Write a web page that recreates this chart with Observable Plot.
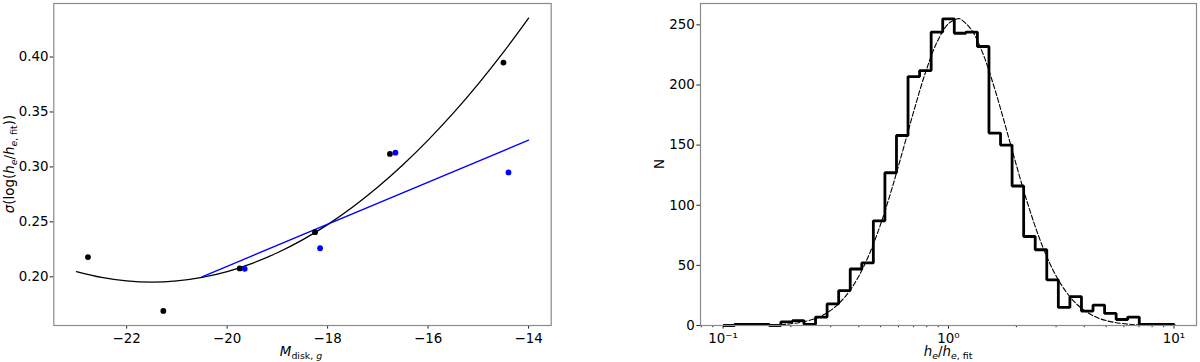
<!DOCTYPE html>
<html><head><meta charset="utf-8">
<script src="https://cdn.jsdelivr.net/npm/d3@7"></script>
<script src="https://cdn.jsdelivr.net/npm/@observablehq/plot@0.6"></script>
<style>
html,body{margin:0;padding:0;background:#fff;}
#fig{position:relative;width:1200px;height:362px;overflow:hidden;}
#left,#right{position:absolute;top:0;}
#left{left:0}
#right{left:600px}
</style></head><body>
<div id="fig"><div id="left"></div><div id="right"></div></div>
<script>
// ---------- Left panel data ----------
const blackMag   = [-22.77, -21.27, -19.75, -18.25, -16.76, -14.50];
const blackSigma = [0.2180, 0.1690, 0.2076, 0.2406, 0.3118, 0.3949];
const blueMag    = [-19.65, -18.15, -16.65, -14.40];
const blueSigma  = [0.2073, 0.2260, 0.3130, 0.2950];
const blackFitMag   = [-23, -22.5, -22, -21.5, -21, -20.5, -20, -19.5, -19, -18.5, -18, -17.5, -17, -16.5, -16, -15.5, -15, -14.5, -14];
const blackFitSigma = [0.2048, 0.1995, 0.1963, 0.1952, 0.1963, 0.1995, 0.2048, 0.2123, 0.2219, 0.2336, 0.2475, 0.2635, 0.2817, 0.3020, 0.3244, 0.3489, 0.3756, 0.4044, 0.4354];
const blueFitMag   = [-20.5, -14.0];
const blueFitSigma = [0.2000, 0.3243];
const xTicksLeft = [-22, -20, -18, -16, -14];
const yTicksLeft = [0.20, 0.25, 0.30, 0.35, 0.40];

// ---------- Right panel data ----------
const binEdges = [0.1, 0.11253, 0.12663, 0.14251, 0.16037, 0.18047, 0.20309, 0.22855, 0.25719, 0.28943,
  0.32571, 0.36653, 0.41246, 0.46416, 0.52233, 0.58780, 0.66147, 0.74438, 0.83768, 0.94267,
  1.06082, 1.19378, 1.34340, 1.51178, 1.70125, 1.91448, 2.15443, 2.42446, 2.72833, 3.07029,
  3.45511, 3.88816, 4.37548, 4.92388, 5.54102, 6.23551, 7.01704, 7.89652, 8.88624, 10];
const binCounts = [0, 1, 1, 1, 0, 3, 4, 1, 7, 18,
  29, 47, 52, 87, 127, 158, 207, 212, 244, 255,
  243, 244, 232, 160, 150, 116, 74, 63, 38, 15,
  24, 12, 17, 10, 5, 7, 1, 1, 1];
const gaussRatio = [0.1, 0.1259, 0.1585, 0.1995, 0.2512, 0.2818, 0.3162, 0.3548, 0.3981, 0.4467,
  0.5012, 0.5623, 0.6310, 0.7079, 0.7943, 0.8913, 1.0, 1.0965, 1.122, 1.259, 1.413, 1.585, 1.778,
  1.995, 2.239, 2.512, 2.818, 3.162, 3.548, 3.981, 4.467, 5.012, 6.310, 7.943, 10];
const gaussN = [0.0, 0.06, 0.31, 1.39, 5.15, 9.3, 15.9, 25.9, 40.3, 59.9,
  84.8, 114.5, 147.3, 180.8, 211.6, 236.0, 251.1, 255.0, 255.0, 246.4, 227.3, 199.8, 167.6,
  134.0, 102.1, 74.2, 51.4, 34.0, 21.4, 12.9, 7.4, 4.02, 1.04, 0.22, 0.04];
const xTicksRight = [0.1, 1, 10];
const xTickLabelsRight = ["10\u207B\u00B9", "10\u2070", "10\u00B9"];
const xMinorTicksRight = [0.08, 0.09, 0.2, 0.3, 0.4, 0.5, 0.6, 0.7, 0.8, 0.9, 2, 3, 4, 5, 6, 7, 8, 9];
const yTicksRight = [0, 50, 100, 150, 200, 250];

// ---------- tables ----------
const blackPts = blackMag.map((m, i) => ({m, s: blackSigma[i]}));
const bluePts = blueMag.map((m, i) => ({m, s: blueSigma[i]}));
const blackFit = blackFitMag.map((m, i) => ({m, s: blackFitSigma[i]}));
const blueFit = blueFitMag.map((m, i) => ({m, s: blueFitSigma[i]}));

const stepPts = [{x: binEdges[0], n: 0}];
binEdges.forEach((e, i) => stepPts.push({x: e, n: binCounts[Math.min(i, binCounts.length - 1)]}));
stepPts.push({x: binEdges[binEdges.length - 1], n: 0});
const gaussPts = gaussRatio.map((x, i) => ({x, n: gaussN[i]}));

const FONT = '"DejaVu Sans", "Liberation Sans", sans-serif';
const FS = 13.4;
const baseStyle = {fontFamily: FONT, fontSize: FS + "px", color: "black", background: "white", overflow: "visible"};
const tickStroke = "#222";
const frameStroke = "#8a8a8a";

const left = Plot.plot({
  width: 600, height: 362,
  marginLeft: 53.3, marginRight: 49.3, marginTop: 3, marginBottom: 37,
  style: baseStyle,
  x: {domain: [-23.45, -13.55]},
  y: {domain: [0.1557, 0.4487]},
  marks: [
    Plot.axisX(xTicksLeft, {tickSize: 3.6, tickPadding: 4, stroke: tickStroke, tickFormat: d3.format("d"), label: null}),
    Plot.axisY(yTicksLeft, {tickSize: 3.6, tickPadding: 1.6, stroke: tickStroke, tickFormat: d3.format(".2f"), label: null}),
    Plot.line(blackFit, {x: "m", y: "s", stroke: "black", strokeWidth: 1.3, curve: "catmull-rom"}),
    Plot.line(blueFit, {x: "m", y: "s", stroke: "#0000ff", strokeWidth: 1.3}),
    Plot.dot(blackPts, {x: "m", y: "s", fill: "black", r: 2.9}),
    Plot.dot(bluePts, {x: "m", y: "s", fill: "#0000ff", r: 2.9}),
    Plot.frame({stroke: frameStroke, strokeWidth: 1.2})
  ]
});

const tickFmtRight = new Map(xTicksRight.map((v, i) => [v, xTickLabelsRight[i]]));
const right = Plot.plot({
  width: 600, height: 362,
  marginLeft: 100, marginRight: 4, marginTop: 3, marginBottom: 37,
  style: baseStyle,
  x: {type: "log", domain: [0.07943, 12.589]},
  y: {domain: [0, 267.75]},
  marks: [
    Plot.axisX(xMinorTicksRight, {tickSize: 2.2, tickPadding: 3, stroke: tickStroke, tickFormat: () => "", label: null}),
    Plot.axisX(xTicksRight, {tickSize: 3.6, tickPadding: 4, stroke: tickStroke, tickFormat: d => tickFmtRight.get(d), label: null}),
    Plot.axisY(yTicksRight, {tickSize: 3.6, tickPadding: 2.2, stroke: tickStroke, tickFormat: d3.format("d"), label: null}),
    Plot.line(stepPts, {x: "x", y: "n", stroke: "black", strokeWidth: 2.8, curve: "step-after", strokeLinejoin: "miter", strokeLinecap: "butt"}),
    Plot.line(gaussPts, {x: "x", y: "n", stroke: "black", strokeWidth: 1.1, strokeDasharray: "5,2.2", curve: "catmull-rom"}),
    Plot.frame({stroke: frameStroke, strokeWidth: 1.2})
  ]
});

document.getElementById("left").appendChild(left);
document.getElementById("right").appendChild(right);

// ---------- rich-text axis labels ----------
function addLabel(svg, x, y, rotate, parts) {
  const t = d3.select(svg).append("text")
    .attr("transform", `translate(${x},${y})` + (rotate ? ` rotate(${rotate})` : ""))
    .attr("text-anchor", "middle")
    .attr("font-family", FONT)
    .attr("font-size", FS)
    .attr("fill", "black");
  let shifted = 0;
  for (const p of parts) {
    const ts = t.append("tspan").text(p.t);
    if (p.i) ts.attr("font-style", "italic");
    const want = p.sub ? 3.2 : 0;
    if (want !== shifted) { ts.attr("dy", want - shifted); shifted = want; }
    if (p.sub) ts.attr("font-size", FS * 0.7);
  }
  return t;
}
addLabel(left, 13.5, 164, -90, [
  {t: "\u03C3", i: 1}, {t: "(log("}, {t: "h", i: 1}, {t: "e", i: 1, sub: 1}, {t: "/"},
  {t: "h", i: 1}, {t: "e", i: 1, sub: 1}, {t: ", fit", sub: 1}, {t: "))"}
]);
addLabel(left, 301, 356, 0, [
  {t: "M", i: 1}, {t: "disk, ", sub: 1}, {t: "g", i: 1, sub: 1}
]);
addLabel(right, 64, 164, -90, [{t: "N"}]);
addLabel(right, 348, 356, 0, [
  {t: "h", i: 1}, {t: "e", i: 1, sub: 1}, {t: "/"}, {t: "h", i: 1}, {t: "e", i: 1, sub: 1}, {t: ", fit", sub: 1}
]);
</script>
</body></html>
